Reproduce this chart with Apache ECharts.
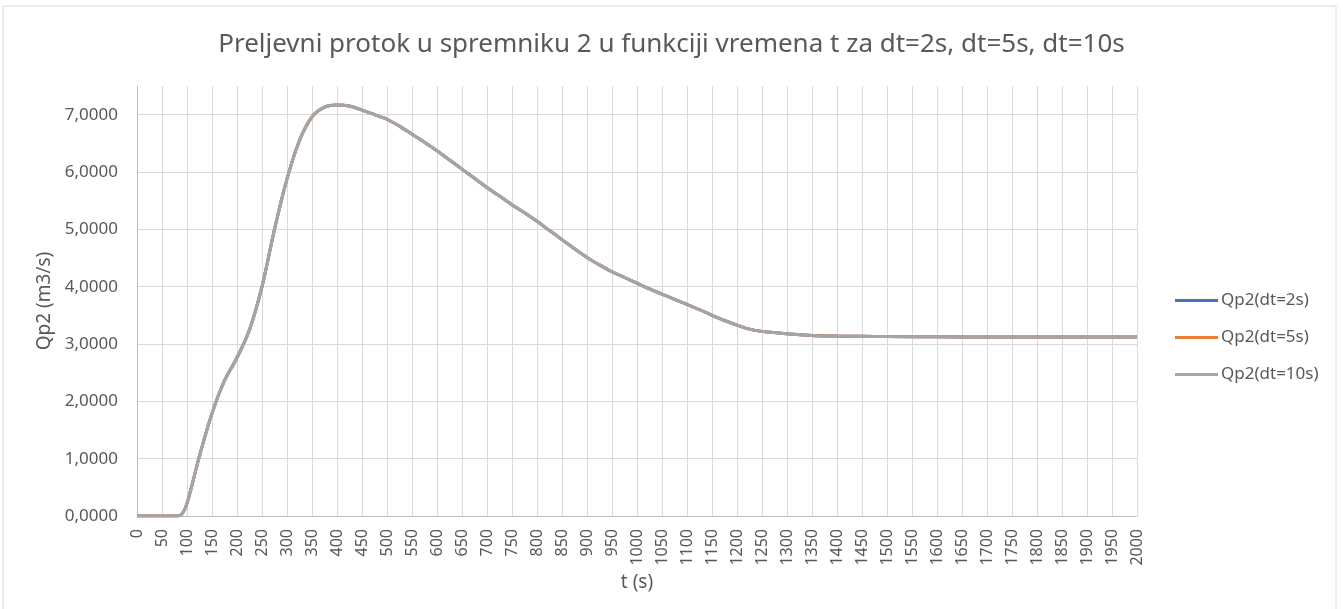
<!DOCTYPE html>
<html>
<head>
<meta charset="utf-8">
<script src="https://cdn.jsdelivr.net/npm/echarts@6/dist/echarts.min.js"></script>
<style>
    html, body { margin: 0; padding: 0; background: #fff; }
    #chart { width: 1343px; height: 609px; }
</style>
</head>
<body>
<div id="chart"></div>
<script>
// vrijeme t (s)
var times = [0, 25, 50, 75, 88, 100, 125, 150, 175, 200, 225, 250, 275, 300, 325, 350, 375, 400,
    425, 450, 475, 500, 525, 550, 575, 600, 625, 650, 675, 700, 725, 750, 775, 800, 825, 850,
    875, 900, 925, 950, 975, 1000, 1025, 1050, 1075, 1100, 1125, 1150, 1175, 1200, 1225, 1250,
    1275, 1300, 1350, 1400, 1450, 1500, 1600, 1700, 1800, 1900, 2000];
// Qp2 (m3/s) za razlicite korake
var qDt2 = [0, 0, 0, 0, 0.02, 0.22, 1.05, 1.79, 2.36, 2.76, 3.25, 4.0, 5.0, 5.88, 6.55, 6.96, 7.13, 7.17,
    7.15, 7.08, 7.0, 6.92, 6.8, 6.66, 6.52, 6.37, 6.21, 6.05, 5.89, 5.73, 5.58, 5.43, 5.29, 5.14, 4.98, 4.82,
    4.66, 4.51, 4.38, 4.26, 4.16, 4.06, 3.96, 3.87, 3.78, 3.69, 3.6, 3.5, 3.41, 3.33, 3.26, 3.22,
    3.2, 3.18, 3.15, 3.14, 3.135, 3.13, 3.125, 3.12, 3.12, 3.12, 3.12];
var qDt5 = [0, 0, 0, 0, 0.02, 0.22, 1.05, 1.79, 2.36, 2.76, 3.25, 4.0, 5.0, 5.88, 6.55, 6.96, 7.13, 7.17,
    7.15, 7.08, 7.0, 6.92, 6.8, 6.66, 6.52, 6.37, 6.21, 6.05, 5.89, 5.73, 5.58, 5.43, 5.29, 5.14, 4.98, 4.82,
    4.66, 4.51, 4.38, 4.26, 4.16, 4.06, 3.96, 3.87, 3.78, 3.69, 3.6, 3.5, 3.41, 3.33, 3.26, 3.22,
    3.2, 3.18, 3.15, 3.14, 3.135, 3.13, 3.125, 3.12, 3.12, 3.12, 3.12];
var qDt10 = [0, 0, 0, 0, 0.02, 0.22, 1.05, 1.79, 2.36, 2.76, 3.25, 4.0, 5.0, 5.88, 6.55, 6.96, 7.13, 7.17,
    7.15, 7.08, 7.0, 6.92, 6.8, 6.66, 6.52, 6.37, 6.21, 6.05, 5.89, 5.73, 5.58, 5.43, 5.29, 5.14, 4.98, 4.82,
    4.66, 4.51, 4.38, 4.26, 4.16, 4.06, 3.96, 3.87, 3.78, 3.69, 3.6, 3.5, 3.41, 3.33, 3.26, 3.22,
    3.2, 3.18, 3.15, 3.14, 3.135, 3.13, 3.125, 3.12, 3.12, 3.12, 3.12];
var seriesNames = ['Qp2(dt=2s)', 'Qp2(dt=5s)', 'Qp2(dt=10s)'];
var seriesColors = ['#4472C4', '#ED7D31', '#A5A5A5'];

function pairs(values) {
    var out = [];
    for (var i = 0; i < times.length; i++) {
        out.push([times[i], values[i]]);
    }
    return out;
}

var font = '"Noto Sans", "Open Sans", sans-serif';
var myChart = echarts.init(document.getElementById('chart'));
var allValues = [qDt2, qDt5, qDt10];
var series = [];
for (var k = 0; k < seriesNames.length; k++) {
    series.push({
        name: seriesNames[k],
        type: 'line',
        data: pairs(allValues[k]),
        smooth: 0.3,
        symbol: 'none',
        lineStyle: { color: seriesColors[k], width: 3 },
        itemStyle: { color: seriesColors[k] }
    });
}

var option = {
    animation: false,
    backgroundColor: '#fff',
    title: {
        text: 'Preljevni protok u spremniku 2 u funkciji vremena t za dt=2s, dt=5s, dt=10s',
        left: 'center',
        top: 27,
        textStyle: { color: '#595959', fontSize: 26, fontWeight: 'normal', fontFamily: font }
    },
    graphic: [{
        type: 'rect',
        shape: { x: 3, y: 6, width: 1333, height: 640 },
        style: { fill: 'none', stroke: '#d9d9d9', lineWidth: 1 },
        silent: true
    }],
    legend: {
        orient: 'vertical',
        left: 1170,
        top: 287,
        itemWidth: 43,
        itemHeight: 3,
        itemGap: 20,
        icon: 'rect',
        data: seriesNames,
        textStyle: { color: '#595959', fontSize: 17, fontFamily: font, padding: [0, 0, 0, -2] }
    },
    grid: {
        left: 137,
        right: 206,
        top: 86,
        bottom: 93
    },
    xAxis: {
        type: 'value',
        min: 0,
        max: 2000,
        interval: 50,
        name: 't (s)',
        nameLocation: 'middle',
        nameGap: 57,
        nameTextStyle: { color: '#595959', fontSize: 19, fontFamily: font },
        axisLine: { show: true, lineStyle: { color: '#bfbfbf', width: 1 } },
        axisTick: { show: false },
        axisLabel: {
            rotate: 90,
            margin: 13,
            color: '#595959',
            fontSize: 16,
            fontFamily: font,
            formatter: function (v) {
                return String(v);
            }
        },
        splitLine: { show: true, lineStyle: { color: '#d9d9d9', width: 1 } }
    },
    yAxis: {
        type: 'value',
        min: 0,
        max: 7.5,
        interval: 1,
        name: 'Qp2 (m3/s)',
        nameLocation: 'middle',
        nameGap: 78,
        nameTextStyle: { color: '#595959', fontSize: 19, fontFamily: font },
        axisLine: { show: true, lineStyle: { color: '#bfbfbf', width: 1 } },
        axisTick: { show: false },
        axisLabel: {
            margin: 19,
            color: '#595959',
            fontSize: 17,
            fontFamily: font,
            showMaxLabel: false,
            formatter: function (v) {
                return v.toFixed(4).replace('.', ',');
            }
        },
        splitLine: {
            show: true,
            lineStyle: {
                color: ['#d9d9d9', '#d9d9d9', '#d9d9d9', '#d9d9d9', '#d9d9d9', '#d9d9d9', '#d9d9d9', '#d9d9d9', 'rgba(0,0,0,0)'],
                width: 1
            }
        }
    },
    series: series
};
myChart.setOption(option);
</script>
</body>
</html>
